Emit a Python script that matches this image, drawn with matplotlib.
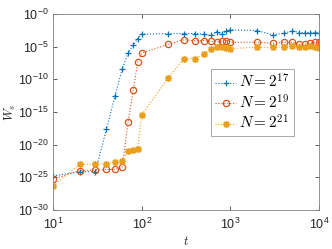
import numpy as np
import matplotlib
matplotlib.use("Agg")
import matplotlib.pyplot as plt
from matplotlib.ticker import FixedLocator, NullLocator

t = [10, 20, 30, 40, 50, 60, 70, 80, 90, 100,
     200, 300, 400, 500, 600, 700, 800, 900, 1000,
     2000, 3000, 4000, 5000, 6000, 7000, 8000, 9000, 10000]

# log10 of W_s
logW_17 = [-24.8, -24.15, -24.15, -17.6, -12.5, -8.5, -6.0, -4.8, -3.8, -3.1,
           -3.0, -3.0, -3.0, -3.1, -3.3, -2.7, -3.1, -2.55, -2.45,
           -2.55, -3.2, -2.95, -2.6, -2.85, -2.85, -2.85, -2.85, -2.85]
logW_19 = [-25.3, -24.0, -23.9, -23.8, -23.8, -23.5, -16.6, -11.7, -7.4, -6.0,
           -4.64, -3.93, -4.13, -4.09, -4.18, -4.29, -4.09, -4.09, -4.33,
           -4.33, -4.5, -4.33, -4.33, -4.64, -4.64, -4.5, -4.33, -4.33]
logW_21 = [-26.3, -23.0, -23.0, -22.9, -22.7, -22.5, -21.0, -20.9, -20.6, -15.4,
           -9.75, -6.84, -6.84, -6.1, -5.4, -5.05, -5.1, -5.2, -5.3,
           -5.1, -5.1, -5.0, -4.9, -5.0, -5.0, -4.95, -5.0, -5.15]

labels = [r'$N=2^{17}$', r'$N=2^{19}$', r'$N=2^{21}$']
colors = ['#0072BD', '#D95319', '#E9A020']

ytick_exp = [-30, -25, -20, -15, -10, -5, 0]
ytick_labels = [r'$\mathregular{10^{-30}}$', r'$\mathregular{10^{-25}}$',
                r'$\mathregular{10^{-20}}$', r'$\mathregular{10^{-15}}$',
                r'$\mathregular{10^{-10}}$', r'$\mathregular{10^{-5}}$',
                r'$\mathregular{10^{-0}}$']
xtick_vals = [10, 100, 1000, 10000]
xtick_labels = [r'$\mathregular{10^{1}}$', r'$\mathregular{10^{2}}$',
                r'$\mathregular{10^{3}}$', r'$\mathregular{10^{4}}$']

plt.rcParams['font.family'] = ['Liberation Sans', 'DejaVu Sans']
plt.rcParams['mathtext.fontset'] = 'cm'

fig = plt.figure(figsize=(3.32, 2.49), dpi=100)
ax = fig.add_axes([0.16, 0.157, 0.801, 0.787])

styles = [
    dict(marker='+', markersize=5, markeredgewidth=0.9),
    dict(marker='o', markersize=4.5, markeredgewidth=0.9, markerfacecolor='none'),
    dict(marker=(8, 2, 0), markersize=5, markeredgewidth=1.0),
]

for lw, lab, c, st in zip([logW_17, logW_19, logW_21], labels, colors, styles):
    W = 10.0 ** np.array(lw)
    ax.plot(t, W, color=c, linestyle=':', linewidth=0.8, label=lab, **st)

ax.set_xscale('log')
ax.set_yscale('log')
ax.set_xlim(10, 10000)
ax.set_ylim(1e-30, 1)

ax.yaxis.set_major_locator(FixedLocator([10.0 ** e for e in ytick_exp]))
ax.set_yticklabels(ytick_labels)
ax.xaxis.set_major_locator(FixedLocator(xtick_vals))
ax.set_xticklabels(xtick_labels)
ax.xaxis.set_minor_locator(NullLocator())
ax.yaxis.set_minor_locator(NullLocator())

ax.tick_params(direction='in', length=3, width=0.6, colors='#404040',
               labelsize=9, top=True, right=True, labelcolor='#262626')
ax.tick_params(axis='x', pad=5)
for s in ax.spines.values():
    s.set_color('#808080')
    s.set_linewidth(0.6)

ax.set_xlabel(r'$t$', fontsize=9, labelpad=2, color='#262626')
ax.set_ylabel(r'$W_s$', fontsize=9, labelpad=0, color='#262626')

leg = ax.legend(loc='upper left', bbox_to_anchor=(0.594, 0.719),
                borderaxespad=0, fontsize=11, frameon=True, fancybox=False,
                handlelength=1.4, handletextpad=0.2, borderpad=0.25,
                labelspacing=0.15)
leg.get_frame().set_edgecolor('#808080')
leg.get_frame().set_linewidth(0.6)

fig.savefig('out.png', dpi=100)
